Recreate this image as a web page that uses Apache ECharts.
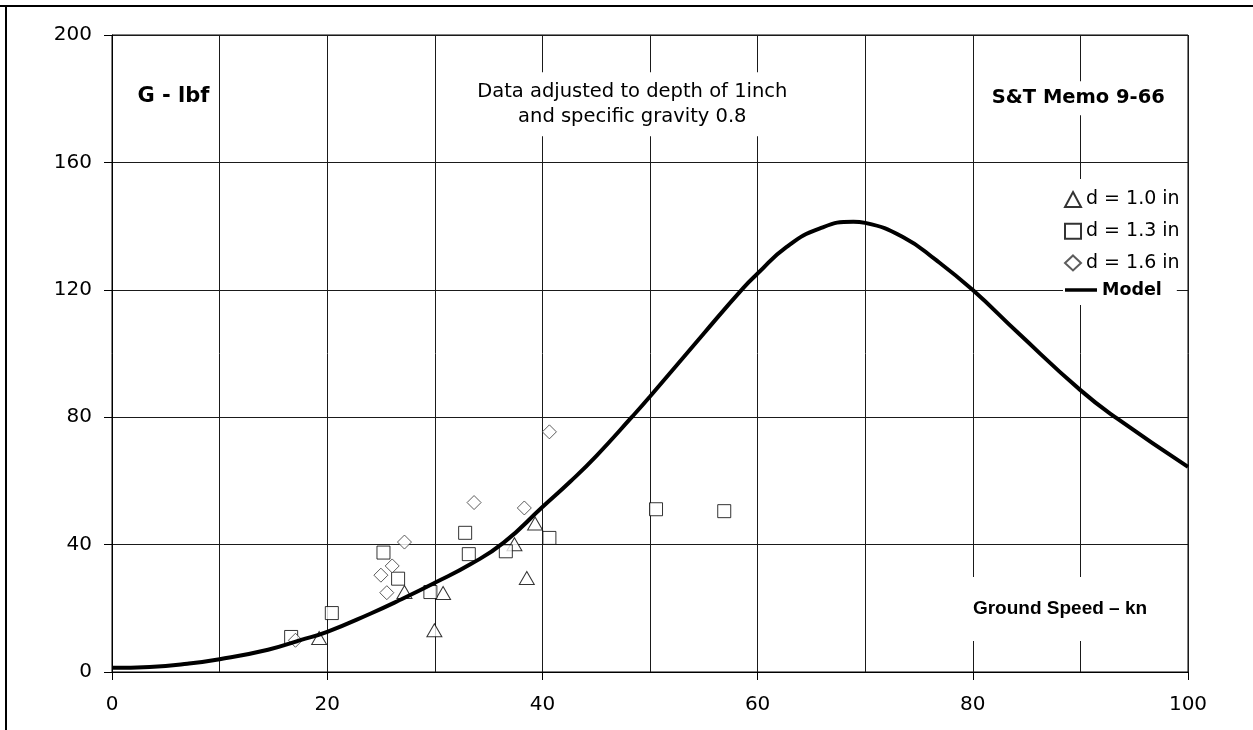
<!DOCTYPE html>
<html>
<head>
<meta charset="utf-8">
<script src="https://cdn.jsdelivr.net/npm/echarts@6/dist/echarts.min.js"></script>
<style>
html,body{margin:0;padding:0;background:#fff;}
#chart{width:1253px;height:730px;}
</style>
</head>
<body>
<div id="chart"></div>
<script>
// Model curve (ground speed kn, G lbf)
const modelSpeed = [0, 3.5, 7, 10, 14.5, 17.5, 20, 24, 27, 30, 33.3, 36.4, 40, 42.6, 45, 48.3, 50, 55, 58.7, 60, 62.7, 65.8, 68.9, 70, 73.5, 76.6, 80, 84.2, 90, 93.4, 100];
const modelG     = [1.3, 1.6, 2.6, 4.0, 7.0, 10.0, 12.6, 18.3, 23.0, 28.0, 33.8, 40.6, 51.8, 59.8, 67.8, 80.0, 86.5, 106.3, 120.7, 125.1, 133.5, 139.3, 141.4, 141.0, 136.6, 129.3, 119.9, 106.5, 88.5, 79.6, 64.4];

// d = 1.0 in (triangles)
const d10Speed = [19.25, 27.18, 29.96, 30.77, 37.4, 38.55, 39.32];
const d10G     = [10.7, 25.1, 13.1, 24.8, 40.1, 29.5, 46.6];
// d = 1.3 in (squares)
const d13Speed = [16.65, 20.43, 25.23, 26.59, 29.59, 32.82, 33.16, 36.6, 40.65, 50.56, 56.9];
const d13G     = [11.0, 18.5, 37.5, 29.3, 25.1, 43.7, 37.0, 37.9, 42.1, 51.1, 50.5];
// d = 1.6 in (diamonds)
const d16Speed = [17.05, 24.99, 25.54, 26.04, 27.18, 33.65, 38.32, 40.65];
const d16G     = [9.96, 30.4, 24.9, 33.3, 40.8, 53.2, 51.5, 75.4];

const seriesNames = ['d = 1.0 in', 'd = 1.3 in', 'd = 1.6 in', 'Model'];
const annotTopLeft = 'G - lbf';
const annotTopMid = 'Data adjusted to depth of 1inch\nand specific gravity 0.8';
const annotTopRight = 'S&T Memo 9-66';
const annotXAxis = 'Ground Speed \u2013 kn';

const zip = (a, b) => a.map((v, i) => [v, b[i]]);
const FONT = '"DejaVu Sans", sans-serif';
const FONT2 = '"Liberation Sans", Arial, sans-serif';

const chart = echarts.init(document.getElementById('chart'), null, {renderer: 'canvas'});
const lineCol = '#1a1a1a';

const option = {
  animation: false,
  backgroundColor: '#fff',
  grid: {left: 112, right: 65, top: 35, bottom: 58, show: true, borderColor: '#000', borderWidth: 1},
  xAxis: {
    type: 'value', min: 0, max: 100, interval: 20,
    axisLine: {show: true, onZero: false, lineStyle: {color: '#000', width: 1}},
    axisTick: {show: true, length: 8, lineStyle: {color: '#000'}},
    axisLabel: {color: '#000', fontFamily: FONT, fontSize: 20, margin: 23},
    splitLine: {show: true, lineStyle: {color: lineCol, width: 1}},
    minorTick: {show: false, splitNumber: 2},
    minorSplitLine: {show: true, lineStyle: {color: lineCol, width: 1}}
  },
  yAxis: {
    type: 'value', min: 0, max: 200, interval: 40,
    axisLine: {show: true, lineStyle: {color: '#000', width: 1}},
    axisTick: {show: true, length: 8, lineStyle: {color: '#000'}},
    axisLabel: {color: '#000', fontFamily: FONT, fontSize: 20, margin: 20},
    splitLine: {show: true, lineStyle: {color: lineCol, width: 1}}
  },
  legend: [
    {
      data: seriesNames.slice(0, 3),
      orient: 'vertical', left: 1063, top: 179,
      padding: [11, 1, 4, 1],
      itemWidth: 16, itemHeight: 15, itemGap: 12.7,
      backgroundColor: '#fff',
      selectedMode: false,
      textStyle: {color: '#000', fontFamily: FONT, fontSize: 19}
    },
    {
      data: [{name: seriesNames[3], icon: 'rect'}],
      orient: 'vertical', left: 1063, top: 276,
      padding: [5, 15, 6, 2],
      itemWidth: 32, itemHeight: 3.5,
      backgroundColor: '#fff',
      selectedMode: false,
      itemStyle: {color: '#000', borderWidth: 0},
      textStyle: {color: '#000', fontFamily: FONT, fontSize: 17.5, fontWeight: 'bold'}
    }
  ],
  graphic: [
    {type: 'line', z: 100, shape: {x1: 0, y1: 6, x2: 1253, y2: 6}, style: {stroke: '#000', lineWidth: 2}},
    {type: 'line', z: 100, shape: {x1: 6, y1: 5, x2: 6, y2: 730}, style: {stroke: '#000', lineWidth: 2}},
    {type: 'text', z: 100, x: 173.5, y: 97,
      style: {text: annotTopLeft, font: 'bold 21px ' + FONT, fill: '#000', align: 'center', verticalAlign: 'middle'}},
    {type: 'text', z: 100, x: 632.3, y: 104.2,
      style: {text: annotTopMid, font: '19.5px ' + FONT, lineHeight: 25, fill: '#000', align: 'center', verticalAlign: 'middle',
        backgroundColor: '#fff', padding: [7, 4]}},
    {type: 'text', z: 100, x: 1078.3, y: 98.3,
      style: {text: annotTopRight, font: 'bold 19.5px ' + FONT, fill: '#000', align: 'center', verticalAlign: 'middle',
        backgroundColor: '#fff', padding: [7, 3]}},
    {type: 'text', z: 100, x: 1060, y: 609,
      style: {text: annotXAxis, font: 'bold 19px ' + FONT2, fill: '#000', align: 'center', verticalAlign: 'middle',
        backgroundColor: '#fff', padding: [20, 4, 25, 4]}}
  ],
  series: [
    {
      name: seriesNames[0], type: 'scatter', data: zip(d10Speed, d10G),
      symbol: 'triangle', symbolSize: [15, 13], z: 3,
      itemStyle: {color: '#fff', borderColor: '#000', borderWidth: 1}
    },
    {
      name: seriesNames[1], type: 'scatter', data: zip(d13Speed, d13G),
      symbol: 'rect', symbolSize: 13, z: 3,
      itemStyle: {color: '#fff', borderColor: '#000', borderWidth: 1}
    },
    {
      name: seriesNames[2], type: 'scatter', data: zip(d16Speed, d16G),
      symbol: 'diamond', symbolSize: [14, 14], z: 3,
      itemStyle: {color: '#fff', borderColor: '#333', borderWidth: 1}
    },
    {
      name: seriesNames[3], type: 'line', data: zip(modelSpeed, modelG),
      symbol: 'none', smooth: 0.5, z: 4,
      lineStyle: {color: '#000', width: 4},
      itemStyle: {color: '#000'}
    }
  ]
};
chart.setOption(option);
</script>
</body>
</html>
